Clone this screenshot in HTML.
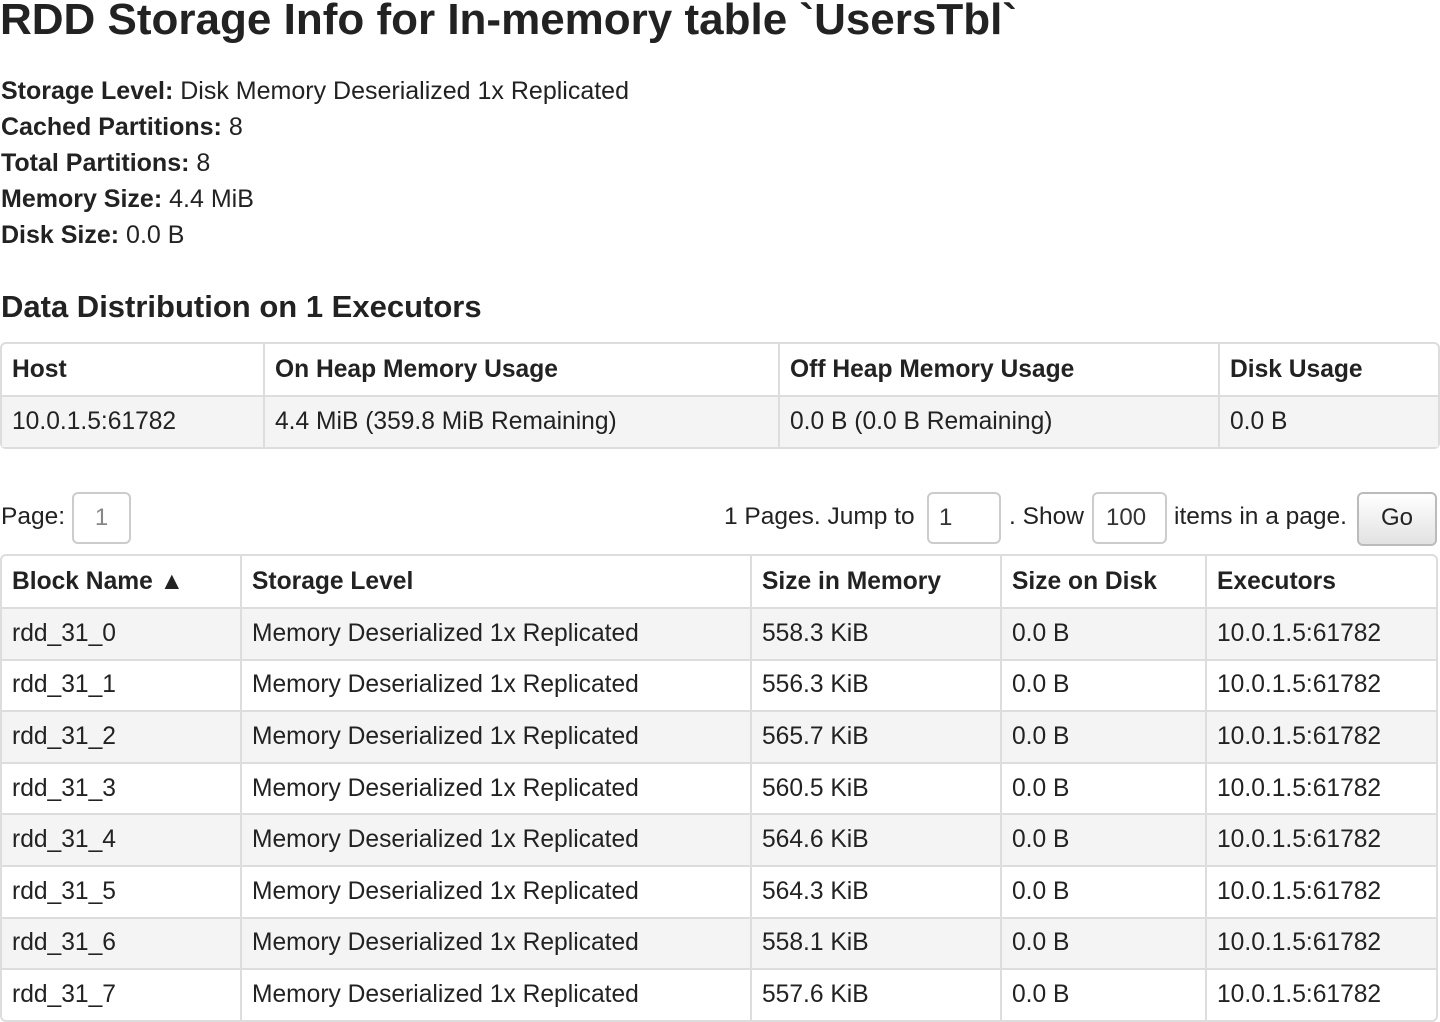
<!DOCTYPE html>
<html><head><meta charset="utf-8"><style>
body{margin:0;width:1440px;height:1021px;background:#fff;font-family:"Liberation Sans",Arial,sans-serif;color:#222;position:relative;overflow:hidden}
.a{position:absolute;white-space:nowrap}
h1{position:absolute;left:0;top:-6px;margin:0;font-size:44px;font-weight:bold;line-height:52px;color:#222}
.info{position:absolute;left:1px;top:73px;font-size:25px;line-height:36px}
h2{position:absolute;left:1px;top:288px;margin:0;font-size:31px;line-height:38px;font-weight:bold}
table{position:absolute;border-collapse:separate;border-spacing:0;border:2px solid #ddd;border-radius:6px;font-size:24.6px;table-layout:fixed}
td,th{border-left:2px solid #ddd;border-top:2px solid #ddd;padding:0 0 0 10px;text-align:left;height:51.6px;box-sizing:border-box;white-space:nowrap}
th{font-weight:bold;border-top:none;height:51px}
td:first-child,th:first-child{border-left:none}
tr.g td{background:#f4f4f4}
.box{position:absolute;border:2px solid #ccc;border-radius:6px;box-sizing:border-box;font-size:24px;line-height:48px;color:#555}
</style></head><body>
<h1>RDD Storage Info for In-memory table `UsersTbl`</h1>
<div class="info">
<div><b>Storage Level:</b> Disk Memory Deserialized 1x Replicated</div>
<div><b>Cached Partitions:</b> 8</div>
<div><b>Total Partitions:</b> 8</div>
<div><b>Memory Size:</b> 4.4 MiB</div>
<div><b>Disk Size:</b> 0.0 B</div>
</div>
<h2>Data Distribution on 1 Executors</h2>
<table style="left:0;top:342px;width:1440px">
<colgroup><col style="width:261px"><col style="width:515px"><col style="width:440px"><col></colgroup>
<tr><th>Host</th><th>On Heap Memory Usage</th><th>Off Heap Memory Usage</th><th>Disk Usage</th></tr>
<tr class="g"><td>10.0.1.5:61782</td><td>4.4 MiB (359.8 MiB Remaining)</td><td>0.0 B (0.0 B Remaining)</td><td>0.0 B</td></tr>
</table>
<div class="a" style="left:1px;top:503px;font-size:24.5px">Page:</div>
<div class="box" style="left:72px;top:492px;width:59px;height:52px;text-align:center;color:#888">1</div>
<div class="a" style="left:724px;top:503px;font-size:24.5px">1 Pages. Jump to</div>
<div class="box" style="left:927px;top:492px;width:74px;height:52px;padding-left:10px;color:#333">1</div>
<div class="a" style="left:1009px;top:503px;font-size:24.5px">. Show</div>
<div class="box" style="left:1092px;top:492px;width:75px;height:52px;padding-left:12px;color:#333">100</div>
<div class="a" style="left:1174px;top:503px;font-size:24.5px">items in a page.</div>
<div class="box" style="left:1357px;top:492px;width:80px;height:54px;text-align:center;color:#222;background:linear-gradient(#fff,#e2e2e2);border-color:#bbb">Go</div>
<table style="left:0;top:554px;width:1438px">
<colgroup><col style="width:238px"><col style="width:510px"><col style="width:250px"><col style="width:205px"><col></colgroup>
<tr><th>Block Name &#9650;</th><th>Storage Level</th><th>Size in Memory</th><th>Size on Disk</th><th>Executors</th></tr>
<tr class="g"><td>rdd_31_0</td><td>Memory Deserialized 1x Replicated</td><td>558.3 KiB</td><td>0.0 B</td><td>10.0.1.5:61782</td></tr>
<tr><td>rdd_31_1</td><td>Memory Deserialized 1x Replicated</td><td>556.3 KiB</td><td>0.0 B</td><td>10.0.1.5:61782</td></tr>
<tr class="g"><td>rdd_31_2</td><td>Memory Deserialized 1x Replicated</td><td>565.7 KiB</td><td>0.0 B</td><td>10.0.1.5:61782</td></tr>
<tr><td>rdd_31_3</td><td>Memory Deserialized 1x Replicated</td><td>560.5 KiB</td><td>0.0 B</td><td>10.0.1.5:61782</td></tr>
<tr class="g"><td>rdd_31_4</td><td>Memory Deserialized 1x Replicated</td><td>564.6 KiB</td><td>0.0 B</td><td>10.0.1.5:61782</td></tr>
<tr><td>rdd_31_5</td><td>Memory Deserialized 1x Replicated</td><td>564.3 KiB</td><td>0.0 B</td><td>10.0.1.5:61782</td></tr>
<tr class="g"><td>rdd_31_6</td><td>Memory Deserialized 1x Replicated</td><td>558.1 KiB</td><td>0.0 B</td><td>10.0.1.5:61782</td></tr>
<tr><td>rdd_31_7</td><td>Memory Deserialized 1x Replicated</td><td>557.6 KiB</td><td>0.0 B</td><td>10.0.1.5:61782</td></tr>
</table>
</body></html>
